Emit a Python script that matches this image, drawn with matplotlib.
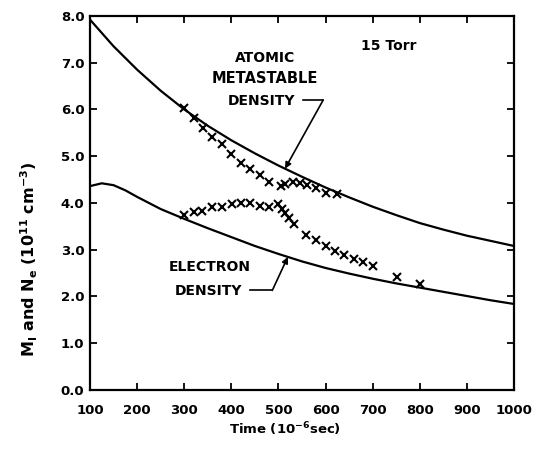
import matplotlib.pyplot as plt
import numpy as np

# model curves (time in 1e-6 s, density in 1e11 cm^-3)
t_meta_curve = [100, 150, 200, 250, 300, 350, 400, 450, 500, 550, 600,
                650, 700, 750, 800, 850, 900, 950, 1000]
metastable_curve = [7.92, 7.35, 6.85, 6.40, 6.00, 5.65, 5.34, 5.06, 4.80, 4.56,
                    4.33, 4.12, 3.92, 3.74, 3.57, 3.43, 3.30, 3.19, 3.08]

t_elec_curve = [100, 125, 150, 175, 200, 250, 300, 350, 400, 450, 500, 550, 600,
                650, 700, 750, 800, 850, 900, 950, 1000]
electron_curve = [4.36, 4.42, 4.38, 4.27, 4.13, 3.87, 3.66, 3.46, 3.27, 3.08, 2.91,
                  2.75, 2.61, 2.49, 2.38, 2.28, 2.19, 2.10, 2.01, 1.92, 1.84]

# measured points (crosses)
t_meta = [300, 320, 340, 360, 380, 400, 420, 440, 460, 480, 505, 515,
          530, 545, 560, 580, 600, 625]
meta_meas = [6.02, 5.82, 5.60, 5.42, 5.25, 5.04, 4.85, 4.72, 4.59, 4.45, 4.36, 4.40,
             4.44, 4.42, 4.38, 4.32, 4.22, 4.20]

t_elec = [300, 320, 338, 360, 380, 402, 420, 440, 460, 480, 500, 507, 515, 523,
          533, 558, 580, 600, 620, 640, 660, 680, 700, 752, 800]
elec_meas = [3.74, 3.81, 3.83, 3.91, 3.92, 3.97, 4.00, 3.99, 3.93, 3.92, 3.97, 3.88,
             3.78, 3.68, 3.56, 3.31, 3.20, 3.07, 2.97, 2.89, 2.81, 2.73, 2.65, 2.42, 2.27]

xticks = [100, 200, 300, 400, 500, 600, 700, 800, 900, 1000]
yticks = [0, 1, 2, 3, 4, 5, 6, 7, 8]

plt.rcParams['font.family'] = 'DejaVu Sans'
plt.rcParams['font.weight'] = 'bold'

fig = plt.figure(figsize=(5.34, 4.53), dpi=100)
ax = fig.add_axes([0.1685, 0.139, 0.794, 0.826])

ax.plot(t_meta_curve, metastable_curve, 'k-', lw=1.6)
ax.plot(t_elec_curve, electron_curve, 'k-', lw=1.6)
ax.plot(t_meta, meta_meas, 'kx', ms=6, mew=1.5)
ax.plot(t_elec, elec_meas, 'kx', ms=6, mew=1.5)

ax.set_xlim(100, 1000)
ax.set_ylim(0, 8)
ax.set_xticks(xticks)
ax.set_yticks(yticks)
ax.set_yticklabels(['%.1f' % v for v in yticks])
ax.tick_params(direction='in', top=True, right=True, length=5, width=1.3,
               labelsize=9.5)
ax.tick_params(axis='x', pad=10)
ax.tick_params(axis='y', pad=4)
for s in ax.spines.values():
    s.set_linewidth(1.6)

ax.set_xlabel('Time (10$^{\\mathregular{-6}}$sec)', fontsize=9.5, fontweight='bold')
ax.xaxis.set_label_coords(0.46, -0.08)
ax.set_ylabel('M$_{\\mathregular{I}}$ and N$_{\\mathregular{e}}$ (10$^{\\mathregular{11}}$ cm$^{\\mathregular{-3}}$)',
              fontsize=11.5, fontweight='bold')
ax.yaxis.set_label_coords(-0.118, 0.35)

ax.text(734, 7.35, '15 Torr', fontsize=10, ha='center', va='center')

# atomic metastable label with leader
ax.text(471, 7.09, 'ATOMIC', fontsize=10, ha='center', va='center')
ax.text(471, 6.66, 'METASTABLE', fontsize=10.5, ha='center', va='center')
ax.text(465, 6.19, 'DENSITY', fontsize=10, ha='center', va='center')
ax.plot([552, 595], [6.2, 6.2], 'k-', lw=1.2)
ax.annotate('', xy=(514, np.interp(514, t_meta_curve, metastable_curve)), xytext=(595, 6.2),
            arrowprops=dict(arrowstyle='-|>', lw=1.2, color='k', mutation_scale=9,
                            shrinkA=0, shrinkB=0))

# electron density label with leader
ax.text(355, 2.63, 'ELECTRON', fontsize=10, ha='center', va='center')
ax.text(351, 2.12, 'DENSITY', fontsize=10, ha='center', va='center')
ax.plot([440, 487], [2.13, 2.13], 'k-', lw=1.2)
ax.annotate('', xy=(520, np.interp(520, t_elec_curve, electron_curve)), xytext=(487, 2.13),
            arrowprops=dict(arrowstyle='-|>', lw=1.2, color='k', mutation_scale=9,
                            shrinkA=0, shrinkB=0))

fig.savefig('out.png', dpi=100)
